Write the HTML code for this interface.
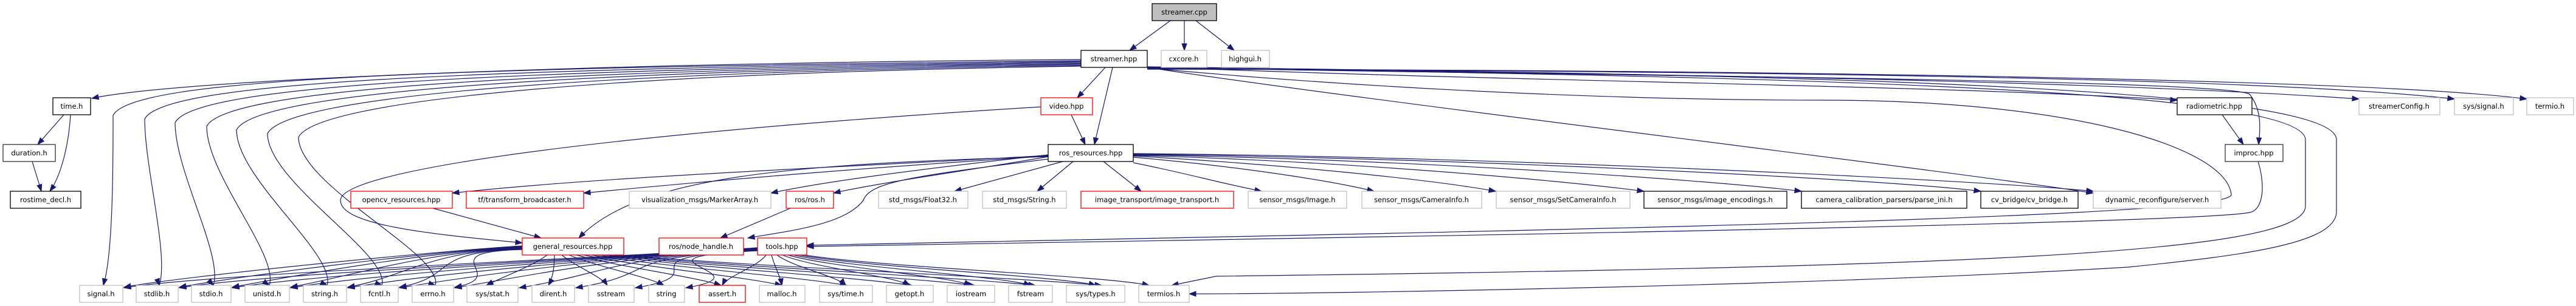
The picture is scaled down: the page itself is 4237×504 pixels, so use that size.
<!DOCTYPE html>
<html><head><meta charset="utf-8">
<style>
html,body{margin:0;padding:0;background:#fff;}
svg{display:block}
text{font-family:"DejaVu Sans","Liberation Sans",sans-serif;font-size:11.5px;fill:#000;text-anchor:middle;dominant-baseline:central}
</style></head><body>
<svg id="g" width="4237" height="504" viewBox="0 0 4237 504" xmlns="http://www.w3.org/2000/svg">
<g id="edges" fill="none" stroke="#191970" stroke-width="1.2"></g>
<g id="heads" fill="#191970" stroke="#191970"></g>
<g id="nodes" stroke-width="1.3">
<rect x="1895" y="6" width="106" height="28" fill="#bfbfbf" stroke="#000"/><text x="1948" y="20">streamer.cpp</text>
<rect x="1778" y="83" width="109" height="28" fill="#fff" stroke="#000"/><text x="1832" y="97">streamer.hpp</text>
<rect x="1910" y="83" width="75" height="28" fill="#fff" stroke="#bfbfbf"/><text x="1947" y="97">cxcore.h</text>
<rect x="2009" y="83" width="79" height="28" fill="#fff" stroke="#bfbfbf"/><text x="2048" y="97">highgui.h</text>

<rect x="87" y="161" width="62" height="28" fill="#fff" stroke="#000"/><text x="118" y="175">time.h</text>
<rect x="1712" y="161" width="85" height="28" fill="#fff" stroke="#f00"/><text x="1754" y="175">video.hpp</text>
<rect x="3581" y="161" width="123" height="28" fill="#fff" stroke="#000"/><text x="3642" y="175">radiometric.hpp</text>
<rect x="3880" y="161" width="133" height="28" fill="#fff" stroke="#bfbfbf"/><text x="3946" y="175">streamerConfig.h</text>
<rect x="4037" y="161" width="97" height="28" fill="#fff" stroke="#bfbfbf"/><text x="4085" y="175">sys/signal.h</text>
<rect x="4156" y="161" width="77" height="28" fill="#fff" stroke="#bfbfbf"/><text x="4194" y="175">termio.h</text>

<rect x="5" y="238" width="86" height="28" fill="#fff" stroke="#333"/><text x="48" y="252">duration.h</text>
<rect x="1724" y="238" width="140" height="28" fill="#fff" stroke="#000"/><text x="1794" y="252">ros_resources.hpp</text>
<rect x="3660" y="238" width="95" height="28" fill="#fff" stroke="#333"/><text x="3707" y="252">improc.hpp</text>

<rect x="17" y="315" width="116" height="28" fill="#fff" stroke="#000"/><text x="75" y="329">rostime_decl.h</text>
<rect x="577" y="315" width="167" height="28" fill="#fff" stroke="#f00"/><text x="660" y="329">opencv_resources.hpp</text>
<rect x="767" y="315" width="193" height="28" fill="#fff" stroke="#f00"/><text x="863" y="329">tf/transform_broadcaster.h</text>
<rect x="1035" y="315" width="233" height="28" fill="#fff" stroke="#bfbfbf"/><text x="1151" y="329">visualization_msgs/MarkerArray.h</text>
<rect x="1293" y="315" width="78" height="28" fill="#fff" stroke="#f00"/><text x="1332" y="329">ros/ros.h</text>
<rect x="1445" y="315" width="147" height="28" fill="#fff" stroke="#bfbfbf"/><text x="1518" y="329">std_msgs/Float32.h</text>
<rect x="1616" y="315" width="138" height="28" fill="#fff" stroke="#bfbfbf"/><text x="1685" y="329">std_msgs/String.h</text>
<rect x="1778" y="315" width="251" height="28" fill="#fff" stroke="#f00"/><text x="1903" y="329">image_transport/image_transport.h</text>
<rect x="2053" y="315" width="162" height="28" fill="#fff" stroke="#bfbfbf"/><text x="2134" y="329">sensor_msgs/Image.h</text>
<rect x="2240" y="315" width="197" height="28" fill="#fff" stroke="#bfbfbf"/><text x="2338" y="329">sensor_msgs/CameraInfo.h</text>
<rect x="2461" y="315" width="220" height="28" fill="#fff" stroke="#bfbfbf"/><text x="2571" y="329">sensor_msgs/SetCameraInfo.h</text>
<rect x="2704" y="315" width="235" height="28" fill="#fff" stroke="#000"/><text x="2821" y="329">sensor_msgs/image_encodings.h</text>
<rect x="2963" y="315" width="272" height="28" fill="#fff" stroke="#000"/><text x="3099" y="329">camera_calibration_parsers/parse_ini.h</text>
<rect x="3258" y="315" width="160" height="28" fill="#fff" stroke="#000"/><text x="3338" y="329">cv_bridge/cv_bridge.h</text>
<rect x="3443" y="315" width="210" height="28" fill="#fff" stroke="#bfbfbf"/><text x="3548" y="329">dynamic_reconfigure/server.h</text>

<rect x="859" y="392" width="167" height="28" fill="#fff" stroke="#f00"/><text x="942" y="406">general_resources.hpp</text>
<rect x="1084" y="392" width="139" height="28" fill="#fff" stroke="#f00"/><text x="1153" y="406">ros/node_handle.h</text>
<rect x="1246" y="392" width="81" height="28" fill="#fff" stroke="#f00"/><text x="1286" y="406">tools.hpp</text>

<rect x="131" y="470" width="71" height="28" fill="#fff" stroke="#bfbfbf"/><text x="166" y="484">signal.h</text>
<rect x="224" y="470" width="69" height="28" fill="#fff" stroke="#bfbfbf"/><text x="258" y="484">stdlib.h</text>
<rect x="315" y="470" width="65" height="28" fill="#fff" stroke="#bfbfbf"/><text x="347" y="484">stdio.h</text>
<rect x="403" y="470" width="73" height="28" fill="#fff" stroke="#bfbfbf"/><text x="439" y="484">unistd.h</text>
<rect x="499" y="470" width="71" height="28" fill="#fff" stroke="#bfbfbf"/><text x="534" y="484">string.h</text>
<rect x="593" y="470" width="62" height="28" fill="#fff" stroke="#bfbfbf"/><text x="624" y="484">fcntl.h</text>
<rect x="678" y="470" width="68" height="28" fill="#fff" stroke="#bfbfbf"/><text x="712" y="484">errno.h</text>
<rect x="768" y="470" width="84" height="28" fill="#fff" stroke="#bfbfbf"/><text x="810" y="484">sys/stat.h</text>
<rect x="875" y="470" width="70" height="28" fill="#fff" stroke="#bfbfbf"/><text x="910" y="484">dirent.h</text>
<rect x="968" y="470" width="75" height="28" fill="#fff" stroke="#bfbfbf"/><text x="1005" y="484">sstream</text>
<rect x="1067" y="470" width="59" height="28" fill="#fff" stroke="#bfbfbf"/><text x="1096" y="484">string</text>
<rect x="1150" y="470" width="76" height="28" fill="#fff" stroke="#f00"/><text x="1188" y="484">assert.h</text>
<rect x="1249" y="470" width="75" height="28" fill="#fff" stroke="#bfbfbf"/><text x="1286" y="484">malloc.h</text>
<rect x="1348" y="470" width="87" height="28" fill="#fff" stroke="#bfbfbf"/><text x="1391" y="484">sys/time.h</text>
<rect x="1458" y="470" width="77" height="28" fill="#fff" stroke="#bfbfbf"/><text x="1496" y="484">getopt.h</text>
<rect x="1558" y="470" width="78" height="28" fill="#fff" stroke="#bfbfbf"/><text x="1597" y="484">iostream</text>
<rect x="1659" y="470" width="72" height="28" fill="#fff" stroke="#bfbfbf"/><text x="1695" y="484">fstream</text>
<rect x="1754" y="470" width="96" height="28" fill="#fff" stroke="#bfbfbf"/><text x="1802" y="484">sys/types.h</text>
<rect x="1873" y="470" width="83" height="28" fill="#fff" stroke="#bfbfbf"/><text x="1914" y="484">termios.h</text>
</g>
</svg>
<script>
var E=document.getElementById('edges'),H=document.getElementById('heads'),NS='http://www.w3.org/2000/svg';
function draw(d,px,py,tx,ty){
 var p=document.createElementNS(NS,'path');p.setAttribute('d',d);E.appendChild(p);
 var dx=tx-px,dy=ty-py,l=Math.sqrt(dx*dx+dy*dy)||1;dx/=l;dy/=l;
 var L=11,W=4,bx=tx-dx*L,by=ty-dy*L;
 var h=document.createElementNS(NS,'polygon');
 h.setAttribute('points',tx+','+ty+' '+(bx-dy*W)+','+(by+dx*W)+' '+(bx+dy*W)+','+(by-dx*W));H.appendChild(h);
}
function line(sx,sy,tx,ty){draw('M'+sx+' '+sy+' L'+tx+' '+ty,sx,sy,tx,ty);}
function cub(sx,sy,c1x,c1y,c2x,c2y,tx,ty){draw('M'+sx+' '+sy+' C'+c1x+' '+c1y+','+c2x+' '+c2y+','+tx+' '+ty,c2x,c2y,tx,ty);}
function raw(d,px,py,tx,ty){draw(d,px,py,tx,ty);}
// top
line(1925,34,1858,83);line(1948,34,1948,83);line(1967,34,2030,83);
line(1818,111,1772,161);line(1830,111,1800,238);line(1762,189,1785,238);
// time
line(105,189,62,238);cub(116,189,113,240,100,290,82,315);line(53,266,68,315);
// streamer.hpp left fan
cub(1778,98,1000,104,300,130,151,162);
var lf=[[186,166],[238,258],[288,347],[340,439],[389,534],[440,624],[491,712]];
lf.forEach(function(a,i){var x=a[0],sy=100+i*1.5,y1=150+i*6;
 raw('M1778 '+sy+' C'+(x+500)+' '+(sy+12)+','+(x+30)+' '+(y1-20)+','+x+' '+(y1+40)+' C'+x+' '+(y1+120)+','+(a[1]+20)+' 420,'+(a[1]+4)+' 470',x,400,a[1]+4,470);});
// streamer.hpp right fan
cub(1887,110,2500,135,3200,140,3581,165);
raw('M1887 111 C2600 125,3650 130,3700 155 C3720 180,3718 210,3715 238',3717,200,3715,238);
cub(1887,112,2600,120,3400,130,3880,163);
cub(1887,113,2800,118,3700,125,4037,163);
cub(1887,114,2900,115,3900,130,4156,163);
cub(1887,111,2200,160,3200,280,3443,318);
raw('M1887 112 C2300 150,2700 165,3000 165 C3400 165,3660 240,3670 320 C3680 360,2500 380,1327 404',1500,400,1327,404);
raw('M1887 111 C2800 125,3790 140,3792 230 L3792 340 C3790 420,3200 440,2000 455 L1927 470',2000,455,1927,470);
raw('M1887 110 C2800 122,3843 135,3843 230 L3843 350 C3840 400,3700 420,3500 440 C3000 470,2200 484,1956 484',2200,484,1956,484);
// improc
line(3655,189,3690,238);
raw('M3714 266 C3725 300,3725 345,3700 350 C3600 370,2000 395,1327 406',1600,400,1327,406);
// ros_resources to row4
cub(1724,256,1400,275,1000,290,744,318);
cub(1724,257,1400,278,1200,295,960,318);
cub(1724,255,1500,280,1350,300,1268,318);
cub(1724,258,1600,280,1450,300,1371,318);
line(1748,266,1570,315);line(1765,266,1706,315);line(1815,266,1877,315);
cub(1864,268,1950,285,2000,300,2075,315);
cub(1864,259,2050,275,2200,300,2260,315);
cub(1864,257,2100,270,2350,295,2460,315);
cub(1864,256,2200,265,2550,295,2704,315);
cub(1864,255,2300,262,2800,295,2963,315);
cub(1864,254,2400,260,3100,295,3258,315);
cub(1864,253,2500,258,3300,300,3443,315);
cub(1724,258,1300,270,1050,290,952,392);
raw('M1724 262 C1500 290,1430 300,1420 330 C1390 370,1300 380,1230 392',1300,380,1230,392);
line(1300,343,1185,392);line(712,343,890,392);
raw('M1712 176 C1000 220,560 280,560 330 C560 370,700 385,859 400',700,385,859,400);
// general_resources -> row6
[[166,202],[258,293],[347,380],[439,476],[534,570],[624,655],[712,746]].forEach(function(a,i){
 cub(859,405+i,700,415,a[1]+100,455,a[1]+2,473);});
[810,910,1005,1096,1188,1286,1391,1496,1597,1695,1802].forEach(function(x,i){
 var sx=900+i*12; if(sx>1026)sx=1026; cub(sx,420,sx+(x-sx)*0.3,440,x-(x-sx)*0.2,455,x-10+i*2,470);});
// tools -> row6
[[202],[293],[380],[476],[570],[655],[746],[852],[945],[1043],[1126]].forEach(function(a,i){
 cub(1246,408+i*0.5,1000,425,a[0]+150,450,a[0]+2,474);});
[1188,1286,1391,1496,1597,1695,1802,1890].forEach(function(x,i){
 cub(1260+i*9,420,1260+i*9+(x-1260)*0.2,440,x-(x-1260)*0.1,455,x,470);});
</script>
</body></html>
